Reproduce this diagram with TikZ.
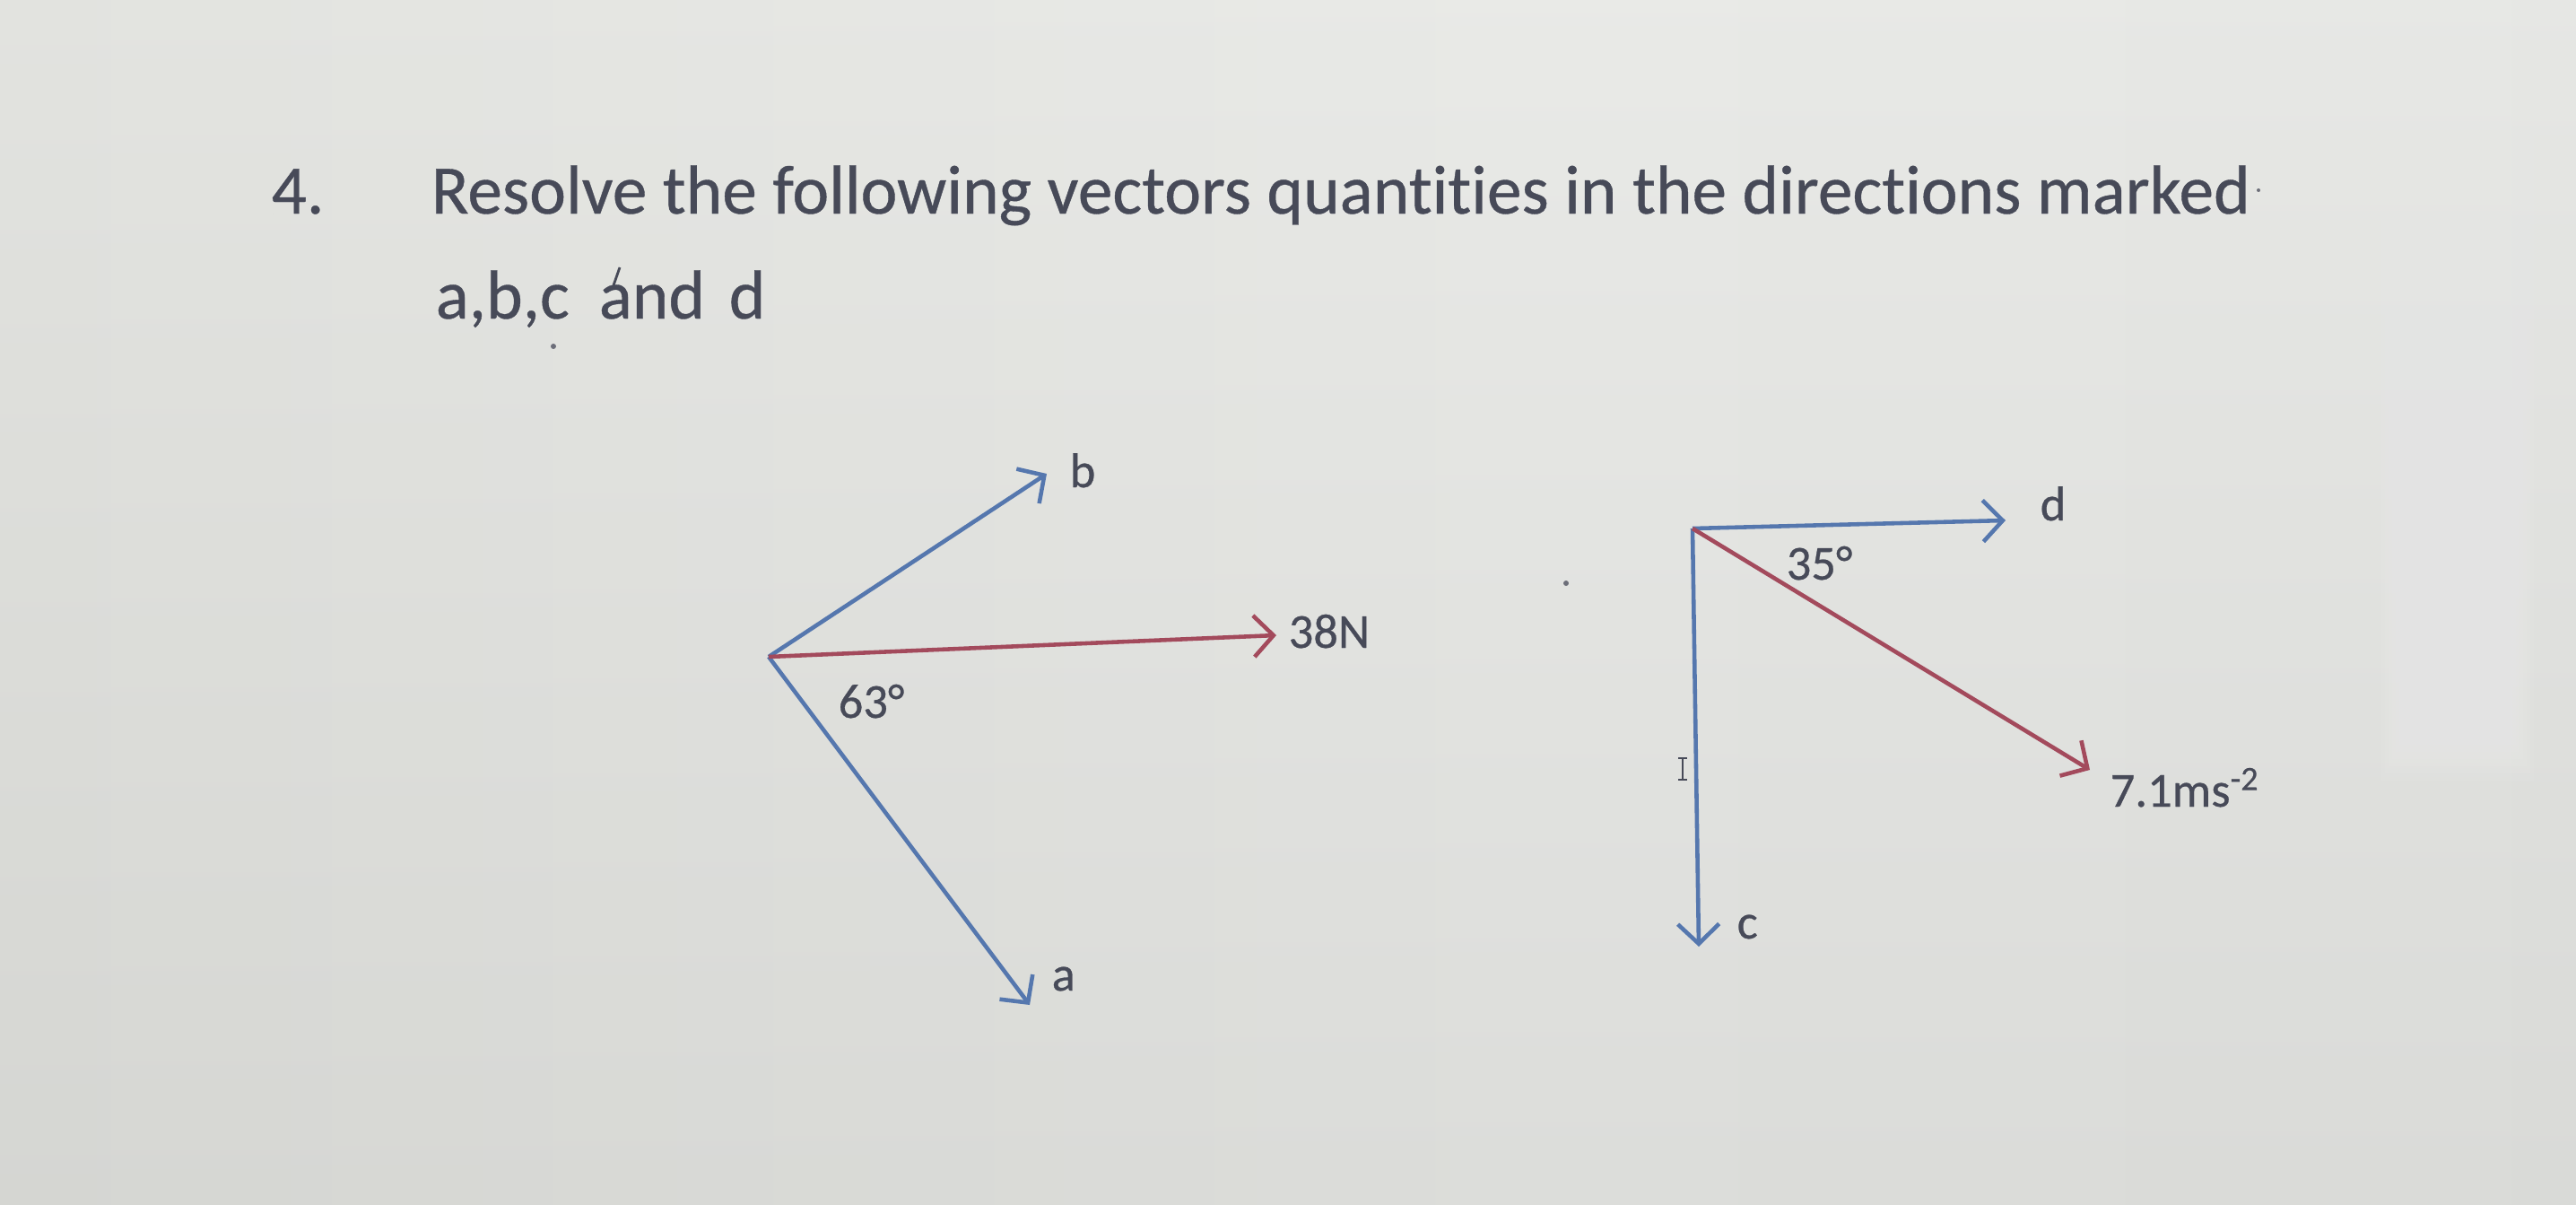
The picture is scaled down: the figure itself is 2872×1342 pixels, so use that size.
\documentclass[tikz,border=0pt]{standalone}
\usepackage{fontspec}
\setmainfont{Carlito}[Ligatures={NoCommon},FakeBold=0.5]
\usetikzlibrary{arrows.meta}
\definecolor{ink}{HTML}{474A58}
\definecolor{vblue}{HTML}{5577AE}
\definecolor{vred}{HTML}{A34A5C}
\definecolor{bgA}{HTML}{D6D7D3}
\definecolor{bgB}{HTML}{E1E2DE}
\definecolor{bgC}{HTML}{E8E9E6}
\definecolor{bgD}{HTML}{E4E5E2}
\definecolor{bgE}{HTML}{E3E4E1}
\definecolor{bgF}{HTML}{CFD0CD}
\pgfdeclarehorizontalshading{bgshade}{100bp}{color(0bp)=(bgA); color(25bp)=(bgB); color(55bp)=(bgC); color(85bp)=(bgD); color(93bp)=(bgE); color(100bp)=(bgF)}
\begin{document}
\begin{tikzpicture}[x=0.01cm,y=-0.01cm,
  vec/.style={line width=1.3pt,-{Straight Barb[length=2.2mm,width=4.6mm]}},
  bvec/.style={vec,draw=vblue},
  rvec/.style={vec,draw=vred},
  lbl/.style={anchor=base west,inner sep=0pt,text=ink,font=\fontsize{15.5}{18}\selectfont},
  ttl/.style={anchor=base west,inner sep=0pt,text=ink,font=\fontsize{22}{26}\selectfont},
  speck/.style={fill=ink!80}]
\useasboundingbox (0,0) rectangle (2872,1342);
\fill[shading=bgshade] (0,0) rectangle (2872,1342);
\shade[top color=white,bottom color=black,opacity=0.05] (0,0) rectangle (2872,1342);
\foreach \i in {0,1,...,7}{
  \fill[white,opacity=0.035] (2655+4*\i,120+8*\i) rectangle (2825-4*\i,870-8*\i);
}

% title
\node[ttl] (num) at (302,238) {4.};
\node[ttl] (line1) at (480,238) {Resolve the following vectors quantities in the directions marked};
\node[ttl] (line2) at (485,355) {a,b,c\hspace{0.2em} and\hspace{0.12em} d};

% left diagram
\coordinate (L) at (857,732);
\coordinate (Lb) at (1167,528);
\coordinate (Ln) at (1423,708);
\coordinate (La) at (1148,1120);
\draw[bvec] (L) -- (Lb);
\draw[bvec] (L) -- (La);
\draw[rvec] (L) -- (Ln);
\node[lbl] (lb) at (1192,543) {b};
\node[lbl] (ln) at (1436,722) {38N};
\node[lbl] (lang) at (934,800) {63°};
\node[lbl] (la) at (1172,1104) {a};

% right diagram
\coordinate (R) at (1887,589);
\coordinate (Rd) at (2236,580);
\coordinate (Rm) at (2330,858);
\coordinate (Rc) at (1894,1055);
\draw[bvec] (R) -- (Rd);
\draw[bvec] (R) -- (Rc);
\draw[rvec] (R) -- (Rm);
\node[lbl] (ld) at (2274,580) {d};
\node[lbl] (lang2) at (1991,646) {35°};
\node[lbl] (lm) at (2352,899) {7.1ms\textsuperscript{-2}};
\node[lbl] (lc) at (1936,1046) {c};

% stray marks
\fill[speck] (1746,650) circle (3);
\fill[speck] (2518,212) circle (2);
\fill[speck] (617,386) circle (3);
\draw[ink,line width=0.8pt] (684,318) -- (691,298);
\draw[ink,line width=0.6pt] (1876,845) -- (1876,869) (1871,845) -- (1881,845) (1871,869) -- (1881,869);
\end{tikzpicture}
\end{document}
